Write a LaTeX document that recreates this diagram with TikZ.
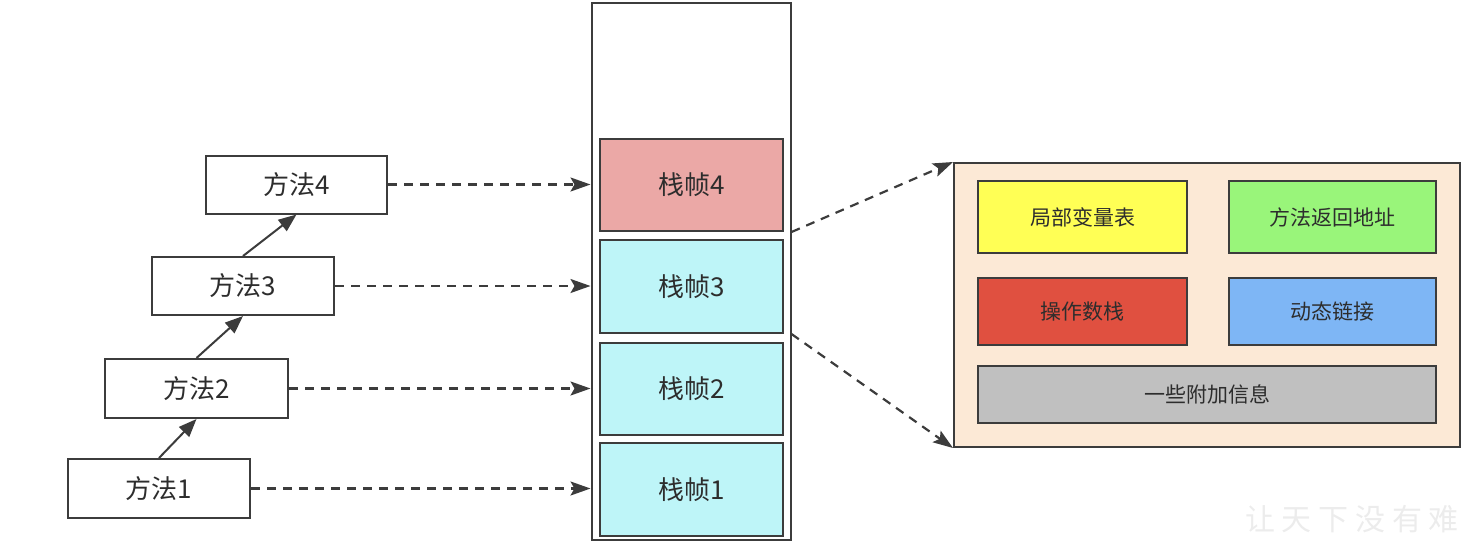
\documentclass[tikz,border=0pt]{standalone}
\usepackage{fontspec}
\setmainfont{Noto Sans CJK SC}
\usetikzlibrary{arrows.meta}
\definecolor{linec}{RGB}{60,60,60}
\definecolor{txtc}{RGB}{45,45,45}
\definecolor{pinkf}{RGB}{235,168,166}
\definecolor{cyanf}{RGB}{190,245,248}
\definecolor{peachf}{RGB}{252,233,214}
\definecolor{yellowf}{RGB}{255,255,85}
\definecolor{greenf}{RGB}{153,245,122}
\definecolor{redf}{RGB}{224,80,64}
\definecolor{bluef}{RGB}{126,182,245}
\definecolor{grayf}{RGB}{192,192,192}
\definecolor{wmark}{RGB}{236,236,236}
\tikzset{
  methodbox/.style={draw=linec, line width=2pt, fill=white, inner sep=0pt, text=txtc,
    font=\fontsize{26}{28}\selectfont},
  framebox/.style={draw=linec, line width=2pt, inner sep=0pt, minimum width=183pt, text=txtc,
    font=\fontsize{26}{28}\selectfont},
  partbox/.style={draw=linec, line width=2pt, inner sep=0pt, text=txtc,
    font=\fontsize{21}{23}\selectfont},
  callarrow/.style={draw=linec, line width=2pt, -{Triangle[length=18pt,width=14pt]}},
  maparrow/.style={draw=linec, line width=2.2pt, dash pattern=on 9pt off 7pt,
    -{Stealth[length=20pt,width=14pt,inset=4pt]}},
}
\begin{document}
\begin{tikzpicture}[x=1pt,y=-1pt]
\useasboundingbox (0,0) rectangle (1480,542);
% methods
\node[methodbox, minimum width=181pt, minimum height=58pt] (m4) at (296.5,184.5) {方法4};
\node[methodbox, minimum width=182pt, minimum height=58pt] (m3) at (243,286) {方法3};
\node[methodbox, minimum width=183pt, minimum height=59pt] (m2) at (196.5,388.5) {方法2};
\node[methodbox, minimum width=182pt, minimum height=59pt] (m1) at (159,488.5) {方法1};
\draw[callarrow] (m1.north) -- (m2.south);
\draw[callarrow] (m2.north) -- (m3.south);
\draw[callarrow] (m3.north) -- (m4.south);
% stack
\node[draw=linec, line width=2pt, minimum width=199pt, minimum height=537pt, inner sep=0pt] (stack) at (691,271.5) {};
\node[framebox, fill=pinkf, minimum height=92pt] (f4) at (691.5,185) {栈帧4};
\node[framebox, fill=cyanf, minimum height=93pt] (f3) at (691.5,286.5) {栈帧3};
\node[framebox, fill=cyanf, minimum height=92pt] (f2) at (691.5,389) {栈帧2};
\node[framebox, fill=cyanf, minimum height=93pt] (f1) at (691.5,489.5) {栈帧1};
\draw[maparrow] (m4.east) -- (m4.east -| stack.west);
\draw[maparrow] (m3.east) -- (m3.east -| stack.west);
\draw[maparrow] (m2.east) -- (m2.east -| stack.west);
\draw[maparrow] (m1.east) -- (m1.east -| stack.west);
% frame panel
\node[draw=linec, line width=2pt, fill=peachf, minimum width=506pt, minimum height=284pt, inner sep=0pt] (panel) at (1207,305) {};
\node[partbox, fill=yellowf, minimum width=209pt, minimum height=72pt] (lvt) at (1082.5,217) {局部变量表};
\node[partbox, fill=greenf, minimum width=207pt, minimum height=72pt] (ret) at (1332.5,217) {方法返回地址};
\node[partbox, fill=redf, minimum width=209pt, minimum height=67pt] (ops) at (1082.5,311.5) {操作数栈};
\node[partbox, fill=bluef, minimum width=207pt, minimum height=67pt] (dyn) at (1332.5,311.5) {动态链接};
\node[partbox, fill=grayf, minimum width=458pt, minimum height=57pt] (add) at (1207,394.5) {一些附加信息};
\draw[maparrow] (f4.south -| stack.east) -- (panel.north west);
\draw[maparrow] (f3.south -| stack.east) -- (panel.south west);
% watermark
\node[anchor=west, text=wmark, font=\fontsize{30}{32}\selectfont, inner sep=0pt] (wm) at (1245,519) {让 天 下 没 有 难};
\end{tikzpicture}
\end{document}
